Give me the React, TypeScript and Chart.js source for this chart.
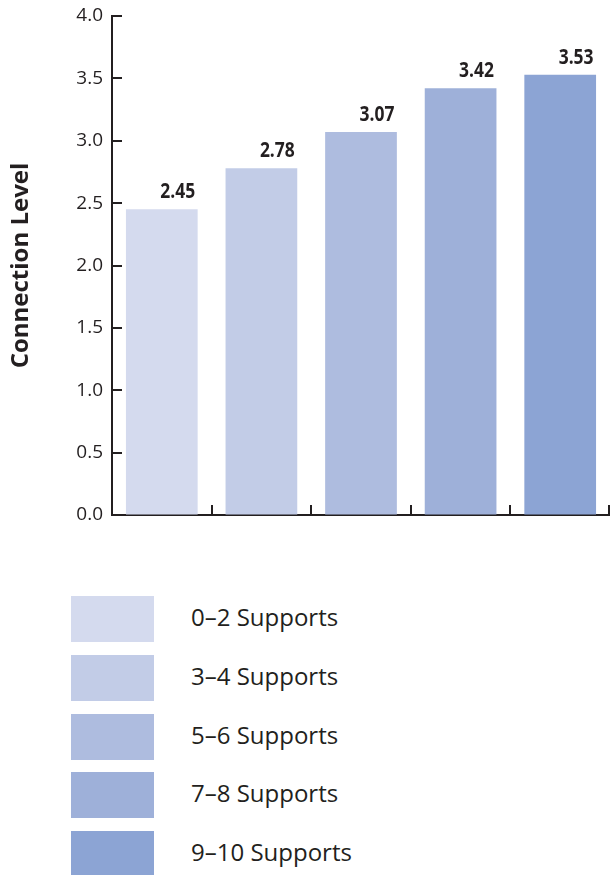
import React, { useEffect, useRef } from "react";
import { Chart, registerables } from "chart.js";

Chart.register(...registerables);

const categories = ["0–2 Supports", "3–4 Supports", "5–6 Supports", "7–8 Supports", "9–10 Supports"];
const values = [2.45, 2.78, 3.07, 3.42, 3.53];
const yTicks = [0, 0.5, 1.0, 1.5, 2.0, 2.5, 3.0, 3.5, 4.0];
const yTitle = "Connection Level";

const barColors = ["#D4DAEE", "#C2CCE7", "#AEBCDF", "#9EB0D9", "#8CA4D4"];
const ink = "#231F20";

const innerTicks = {
  id: "innerTicks",
  afterDraw(chart: any) {
    const { ctx, chartArea, scales } = chart;
    const y = scales.y;
    const x = scales.x;
    ctx.save();
    ctx.strokeStyle = ink;
    ctx.lineWidth = 2;
    ctx.beginPath();
    yTicks.forEach((v) => {
      const py = Math.round(y.getPixelForValue(v));
      ctx.moveTo(chartArea.left, py);
      ctx.lineTo(chartArea.left + 10, py);
    });
    const n = categories.length;
    for (let i = 0; i < n; i++) {
      let px;
      if (i < n - 1) {
        px = (x.getPixelForTick(i) + x.getPixelForTick(i + 1)) / 2;
      } else {
        px = chartArea.right - 1;
      }
      px = Math.round(px);
      ctx.moveTo(px, chartArea.bottom);
      ctx.lineTo(px, chartArea.bottom - 10);
    }
    ctx.stroke();
    ctx.restore();
  },
};

const valueLabels = {
  id: "valueLabels",
  afterDatasetsDraw(chart: any) {
    const { ctx } = chart;
    const meta = chart.getDatasetMeta(0);
    const sx = 0.83;
    meta.data.forEach((bar: any, i: number) => {
      const right = bar.x + bar.width / 2 - 2.5;
      ctx.save();
      ctx.fillStyle = ink;
      ctx.font = "bold 21px 'Open Sans', sans-serif";
      ctx.textAlign = "right";
      ctx.textBaseline = "alphabetic";
      ctx.translate(right, bar.y - 11);
      ctx.scale(sx, 1);
      ctx.fillText(values[i].toFixed(2), 0, 0);
      ctx.restore();
    });
  },
};

export default function App() {
  const ref = useRef<HTMLCanvasElement>(null);

  useEffect(() => {
    if (!ref.current) return;
    const chart = new Chart(ref.current, {
      type: "bar",
      data: {
        labels: categories,
        datasets: [
          {
            data: values,
            backgroundColor: barColors,
            borderWidth: 0,
            categoryPercentage: 1,
            barPercentage: 0.72,
          },
        ],
      },
      options: {
        animation: false,
        responsive: false,
        maintainAspectRatio: false,
        layout: { padding: { left: 0, right: 0, top: 16, bottom: 15 } },
        plugins: {
          legend: { display: false },
          tooltip: { enabled: false },
        },
        scales: {
          x: {
            offset: true,
            grid: { display: true, drawOnChartArea: false, drawTicks: false },
            border: { display: true, color: ink, width: 2 },
            ticks: { display: false },
          },
          y: {
            min: 0,
            max: 4,
            afterFit(scale: any) {
              scale.width = 112;
              scale.paddingTop = 0;
              scale.paddingBottom = 0;
            },
            afterBuildTicks(scale: any) {
              scale.ticks = yTicks.map((v) => ({ value: v }));
            },
            grid: { display: true, drawOnChartArea: false, drawTicks: false },
            border: { display: true, color: ink, width: 2 },
            ticks: {
              padding: 9,
              color: ink,
              font: { family: "'Open Sans', sans-serif", size: 19 },
              callback: (v: any) => Number(v).toFixed(1),
            },
            title: {
              display: true,
              text: yTitle,
              color: ink,
              font: { family: "'Open Sans', sans-serif", size: 24, weight: "bold" },
              padding: { top: 7, bottom: 0 },
            },
          },
        },
      },
      plugins: [innerTicks, valueLabels],
    });
    return () => chart.destroy();
  }, []);

  return (
    <div style={{ position: "absolute", left: 0, top: 0, width: 610, height: 875, background: "#fff" }}>
      <canvas ref={ref} width={610} height={530} style={{ display: "block", width: 610, height: 530 }} />
      {categories.map((c, i) => (
        <div
          key={c}
          style={{
            position: "absolute",
            left: 71,
            top: 596 + i * 58.75,
            height: 46,
            display: "flex",
            alignItems: "center",
          }}
        >
          <div style={{ width: 83, height: 46, background: barColors[i] }} />
          <span
            style={{
              marginLeft: 37,
              marginTop: -5,
              fontFamily: "'Open Sans', sans-serif",
              fontSize: 24,
              color: ink,
              whiteSpace: "nowrap",
            }}
          >
            {c}
          </span>
        </div>
      ))}
    </div>
  );
}
